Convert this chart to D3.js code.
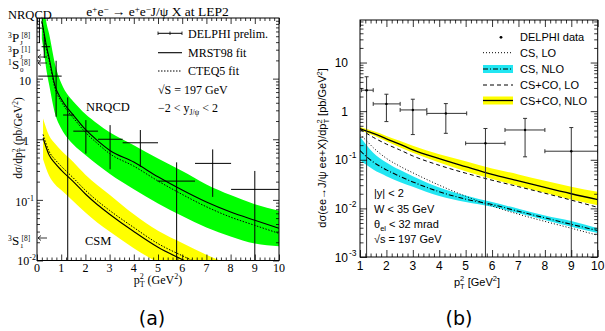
<!DOCTYPE html>
<html><head><meta charset="utf-8">
<script src="https://cdn.jsdelivr.net/npm/d3@7"></script>
<style>body{margin:0;background:#fff}svg{display:block}</style>
</head><body>
<svg id="chart" width="605" height="331"></svg>
<script>
// ---------------- Panel (a) data ----------------
const aCurveX    = [0.2,0.3,0.4,0.5,0.75,1,1.3,1.5,2,2.5,3,4,5,6,7,8,9,10];
const aNrqcdMrst = [90,55,33,22,7.5,4.6,3.1,2.5,1.45,0.95,0.66,0.42,0.24,0.145,0.092,0.063,0.046,0.034];
const aNrqcdCteq = [85,50,30,20,6.8,4.2,2.8,2.25,1.3,0.85,0.58,0.36,0.205,0.123,0.077,0.052,0.038,0.028];
const aNrqcdUp   = [200,130,80,55,17,8.5,5.2,4.2,2.6,1.8,1.3,0.8,0.48,0.3,0.18,0.12,0.085,0.066];
const aNrqcdLo   = [45,25,13,8,2.6,1.5,1.0,0.82,0.55,0.38,0.27,0.15,0.087,0.054,0.035,0.025,0.019,0.0172];
const aCsmX      = [0.25,0.5,0.75,1,1.5,2,2.5,3,4,5,6,7,8];
const aCsmMrst   = [1.05,0.55,0.4,0.31,0.2,0.125,0.083,0.058,0.030,0.0165,0.0104,0.0068,0.0046];
const aCsmCteq   = [1.2,0.63,0.46,0.36,0.23,0.144,0.096,0.067,0.035,0.019,0.012,0.0078,0.0053];
const aCsmUp     = [2.2,1.15,0.84,0.65,0.42,0.26,0.175,0.122,0.058,0.031,0.0195,0.0125,0.0085];
const aCsmLo     = [0.47,0.25,0.18,0.145,0.095,0.062,0.042,0.03,0.016,0.0092,0.0058,0.0038,0.0026];
const aDataX     = [0.1,0.3,0.79,1.27,2.02,3.02,4.27,5.77,7.26,9.0];
const aDataXlo   = [0.0,0.19,0.05,1.08,1.5,2.52,3.54,4.98,6.53,8.02];
const aDataXhi   = [0.2,0.54,1.02,1.53,2.52,3.54,5.0,6.53,8.02,10.0];
const aDataY     = [68,33.6,11.0,2.51,1.36,1.0,0.875,0.204,0.40,0.149];
const aDataYlo   = [38.7,21.9,2.35,0.001,0.58,0.32,0.35,0.001,0.112,0.001];
const aDataYhi   = [150,52.4,19.7,4.9,2.07,1.71,1.42,0.416,0.68,0.30];
const aXTicks    = [0,1,2,3,4,5,6,7,8,9,10];
const aYTicks    = [0.01,0.1,1,10];

// ---------------- Panel (b) data ----------------
const bCurveX    = [1,1.25,1.5,2,2.5,3,4,5,6,7,8,9,10];
const bCsCoNlo   = [0.44,0.39,0.35,0.27,0.21,0.16,0.105,0.072,0.05,0.037,0.027,0.02,0.0152];
const bCsCoNloUp = [0.47,0.43,0.39,0.31,0.245,0.195,0.13,0.093,0.066,0.05,0.037,0.028,0.0219];
const bCsCoNloLo = [0.42,0.36,0.32,0.24,0.18,0.14,0.088,0.058,0.04,0.029,0.021,0.0152,0.0116];
const bCsCoLo    = [0.42,0.35,0.29,0.21,0.16,0.12,0.077,0.053,0.038,0.028,0.0205,0.0148,0.0105];
const bCsLo      = [0.33,0.245,0.178,0.107,0.074,0.054,0.030,0.0178,0.0112,0.0076,0.0054,0.0039,0.0028];
const bCsNlo     = [0.155,0.115,0.09,0.062,0.046,0.035,0.022,0.0155,0.012,0.0087,0.0064,0.0047,0.0035];
const bCsNloUp   = [0.30,0.2,0.14,0.088,0.062,0.046,0.027,0.0185,0.0135,0.0098,0.0071,0.0055,0.0039];
const bCsNloLo   = [0.098,0.078,0.063,0.046,0.035,0.028,0.018,0.0135,0.0108,0.0079,0.0058,0.0042,0.0031];
const bDataX     = [1.25,2.0,3.0,4.25,5.75,7.25,9.0];
const bDataXlo   = [1.06,1.5,2.52,3.53,5.0,6.49,8.0];
const bDataXhi   = [1.5,2.52,3.53,5.04,6.49,8.0,10.0];
const bDataY     = [2.7,1.41,1.06,0.9,0.218,0.41,0.15];
const bDataYlo   = [0.0001,0.61,0.33,0.35,0.0001,0.115,0.0001];
const bDataYhi   = [5.1,2.23,1.76,1.43,0.44,0.71,0.46];
const bXTicks    = [1,2,3,4,5,6,7,8,9,10];
const bYTicks    = [0.001,0.01,0.1,1,10];

const svg = d3.select("#chart");
const SERIF = "Liberation Serif, Times New Roman, serif";
const SANS = "Liberation Sans, Arial, sans-serif";

function logMinor(lo, hi){ const out=[]; for(let e=Math.floor(Math.log10(lo)); e<Math.ceil(Math.log10(hi)); e++){ for(let k=2;k<=9;k++){const v=k*Math.pow(10,e); if(v>lo&&v<hi) out.push(v);} } return out; }
function linMinor(lo, hi, step){ const out=[]; const n=Math.round((hi-lo)/step); for(let i=0;i<=n;i++){const v=+(lo+i*step).toFixed(4); if(Math.abs(v-Math.round(v))>1e-6) out.push(v);} return out; }

function frameAndTicks(g, x, y, xMaj, xMin, yMaj, yMin, maj, min){
  const [x0,x1]=x.range(), [y0,y1]=y.range();
  const add=(axis, tr)=>{ const a=g.append("g").attr("transform",tr).call(axis); a.select(".domain").remove(); a.selectAll("text").remove(); a.selectAll("line").attr("stroke","#000").attr("stroke-width",0.8); };
  add(d3.axisBottom(x).tickValues(xMaj).tickSize(-maj), `translate(0,${y0})`);
  add(d3.axisBottom(x).tickValues(xMin).tickSize(-min), `translate(0,${y0})`);
  add(d3.axisTop(x).tickValues(xMaj).tickSize(-maj), `translate(0,${y1})`);
  add(d3.axisTop(x).tickValues(xMin).tickSize(-min), `translate(0,${y1})`);
  add(d3.axisLeft(y).tickValues(yMaj).tickSize(-maj), `translate(${x0},0)`);
  add(d3.axisLeft(y).tickValues(yMin).tickSize(-min), `translate(${x0},0)`);
  add(d3.axisRight(y).tickValues(yMaj).tickSize(-maj), `translate(${x1},0)`);
  add(d3.axisRight(y).tickValues(yMin).tickSize(-min), `translate(${x1},0)`);
  g.append("rect").attr("x",x0).attr("y",y1).attr("width",x1-x0).attr("height",y0-y1).attr("fill","none").attr("stroke","#000").attr("stroke-width",1);
}

function pts(xs, ys){ return xs.map((v,i)=>[v,ys[i]]); }

// =============== Panel (a) ===============
const xa = d3.scaleLinear().domain([0,10]).range([37,279]);
const ya = d3.scaleLog().domain([0.01,100]).range([260.5,18]);
const ga = svg.append("g");
svg.append("clipPath").attr("id","clipA").append("rect").attr("x",37).attr("y",18).attr("width",242).attr("height",242.5);
const pa = ga.append("g").attr("clip-path","url(#clipA)");

const areaA = d3.area().x(d=>xa(d[0])).y0(d=>ya(d[1])).y1(d=>ya(d[2])).curve(d3.curveMonotoneX);
const lineA = d3.line().x(d=>xa(d[0])).y(d=>ya(d[1])).curve(d3.curveMonotoneX);
pa.append("path").attr("d",areaA(aCurveX.map((v,i)=>[v,aNrqcdLo[i],aNrqcdUp[i]]))).attr("fill","#00ff00");
pa.append("path").attr("d",areaA(aCsmX.map((v,i)=>[v,aCsmLo[i],aCsmUp[i]]))).attr("fill","#ffff00");
pa.append("path").attr("d",lineA(pts(aCurveX,aNrqcdCteq))).attr("fill","none").attr("stroke","#000").attr("stroke-width",1).attr("stroke-dasharray","1.5,1.5");
pa.append("path").attr("d",lineA(pts(aCurveX,aNrqcdMrst))).attr("fill","none").attr("stroke","#000").attr("stroke-width",1.1);
pa.append("path").attr("d",lineA(pts(aCsmX,aCsmCteq))).attr("fill","none").attr("stroke","#000").attr("stroke-width",1).attr("stroke-dasharray","1.5,1.5");
pa.append("path").attr("d",lineA(pts(aCsmX,aCsmMrst))).attr("fill","none").attr("stroke","#000").attr("stroke-width",1.1);
aDataX.forEach((v,i)=>{
  pa.append("line").attr("x1",xa(aDataXlo[i])).attr("x2",xa(aDataXhi[i])).attr("y1",ya(aDataY[i])).attr("y2",ya(aDataY[i])).attr("stroke","#000").attr("stroke-width",1);
  pa.append("line").attr("x1",xa(v)).attr("x2",xa(v)).attr("y1",ya(aDataYlo[i])).attr("y2",ya(aDataYhi[i])).attr("stroke","#000").attr("stroke-width",1);
});
frameAndTicks(ga, xa, ya, aXTicks, linMinor(0,10,0.2), aYTicks, logMinor(0.01,100), 6, 3);

// tick labels (a)
aXTicks.forEach(t=>ga.append("text").attr("x",xa(t)).attr("y",272).attr("text-anchor","middle").attr("font-family",SERIF).attr("font-size",12).text(t));
function expLabel(g, xr, yc, base, exp, font, size, supSize){
  const t=g.append("text").attr("y",yc).attr("font-family",font).attr("font-size",size).attr("text-anchor","end").attr("x",xr);
  t.append("tspan").text(base);
  if(exp!==null){ t.append("tspan").attr("dy",-size*0.45).attr("font-size",supSize).text(exp); }
}
expLabel(ga, 31, 84.5, "10", null, SERIF, 12, 8);
expLabel(ga, 29, 145, "1", null, SERIF, 12, 8);
expLabel(ga, 34, 206, "10", "-1", SERIF, 12, 8);
expLabel(ga, 36, 265, "10", "-2", SERIF, 12, 8);

// axis titles (a)
const xla = ga.append("text").attr("x",158).attr("y",283.5).attr("text-anchor","middle").attr("font-family",SERIF).attr("font-size",12);
xla.append("tspan").text("p");
xla.append("tspan").attr("font-size",8).attr("dy",-5).text("2");
xla.append("tspan").attr("font-size",8).attr("dx",-4).attr("dy",8).text("T");
xla.append("tspan").attr("dy",-3).text(" (GeV");
xla.append("tspan").attr("font-size",8).attr("dy",-5).text("2");
xla.append("tspan").attr("dy",5).text(")");
const yla = ga.append("text").attr("transform","translate(22,138) rotate(-90)").attr("text-anchor","middle").attr("font-family",SERIF).attr("font-size",11.5);
yla.append("tspan").text("dσ/dp");
yla.append("tspan").attr("font-size",7.5).attr("dy",-4.5).text("2");
yla.append("tspan").attr("font-size",7.5).attr("dx",-4).attr("dy",7.5).text("T");
yla.append("tspan").attr("dy",-3).text(" (pb/GeV");
yla.append("tspan").attr("font-size",7.5).attr("dy",-4.5).text("2");
yla.append("tspan").attr("dy",4.5).text(")");

// title (a)
const tta = ga.append("text").attr("x",157.5).attr("y",16).attr("text-anchor","middle").attr("font-family",SERIF).attr("font-size",13.5);
tta.append("tspan").text("e");
tta.append("tspan").attr("font-size",9).attr("dy",-4.5).text("+");
tta.append("tspan").attr("dy",4.5).text("e");
tta.append("tspan").attr("font-size",9).attr("dy",-4.5).text("−");
tta.append("tspan").attr("dy",4.5).text(" → e");
tta.append("tspan").attr("font-size",9).attr("dy",-4.5).text("+");
tta.append("tspan").attr("dy",4.5).text("e");
tta.append("tspan").attr("font-size",9).attr("dy",-4.5).text("−");
tta.append("tspan").attr("dy",4.5).text("J/ψ X at LEP2");

ga.append("text").attr("x",8).attr("y",19).attr("font-family",SERIF).attr("font-size",12.5).text("NRQCD");
ga.append("text").attr("x",86).attr("y",111).attr("font-family",SERIF).attr("font-size",12.5).text("NRQCD");
ga.append("text").attr("x",85).attr("y",244.5).attr("font-family",SERIF).attr("font-size",12.5).text("CSM");

// left state labels
function stateLabel(g, x, y, pre, main, sub, sup){
  g.append("text").attr("x",x).attr("y",y-4.5).attr("font-family",SERIF).attr("font-size",7.5).text(pre);
  g.append("text").attr("x",x+4).attr("y",y).attr("font-family",SERIF).attr("font-size",13).text(main);
  g.append("text").attr("x",x+12).attr("y",y+2.5).attr("font-family",SERIF).attr("font-size",7).text(sub);
  g.append("text").attr("x",x+13.5).attr("y",y-4.5).attr("font-family",SERIF).attr("font-size",7.5).text(sup);
}
stateLabel(ga, 8, 42, "3", "P", "J", "[8]");
stateLabel(ga, 8, 56.5, "3", "P", "J", "[1]");
stateLabel(ga, 8, 69, "1", "S", "0", "[8]");
stateLabel(ga, 8, 245, "3", "S", "1", "[8]");
function arrow(g, x, y){
  g.append("line").attr("x1",x+9).attr("x2",x).attr("y1",y).attr("y2",y).attr("stroke","#000").attr("stroke-width",0.8);
  g.append("path").attr("d",`M${x+3},${y-2.5}L${x},${y}L${x+3},${y+2.5}`).attr("fill","none").attr("stroke","#000").attr("stroke-width",0.8);
}
arrow(ga, 38, 57); arrow(ga, 38, 63); arrow(ga, 38, 238);

// legend (a)
const legA = ga.append("g").attr("font-family",SERIF).attr("font-size",12);
legA.append("line").attr("x1",158).attr("x2",182).attr("y1",33.3).attr("y2",33.3).attr("stroke","#000");
[158,170,182].forEach(xx=>legA.append("line").attr("x1",xx).attr("x2",xx).attr("y1",31.5).attr("y2",35).attr("stroke","#000").attr("stroke-width",0.8));
legA.append("text").attr("x",188).attr("y",37.6).text("DELPHI prelim.");
legA.append("line").attr("x1",158).attr("x2",182).attr("y1",52.7).attr("y2",52.7).attr("stroke","#000").attr("stroke-width",1.1);
legA.append("text").attr("x",188).attr("y",57).text("MRST98 fit");
legA.append("line").attr("x1",158).attr("x2",182).attr("y1",71).attr("y2",71).attr("stroke","#000").attr("stroke-dasharray","1.5,1.5");
legA.append("text").attr("x",188).attr("y",75.3).text("CTEQ5 fit");
legA.append("text").attr("x",158).attr("y",93.6).text("√S = 197 GeV");
const yrng = legA.append("text").attr("x",158).attr("y",112.3);
yrng.append("tspan").text("−2 < y");
yrng.append("tspan").attr("font-size",7.5).attr("dy",3).text("J/ψ");
yrng.append("tspan").attr("dy",-3).text(" < 2");

svg.append("text").attr("x",152).attr("y",325).attr("text-anchor","middle").attr("font-family","DejaVu Sans").attr("font-size",19).text("(a)");

// =============== Panel (b) ===============
const xb = d3.scaleLinear().domain([1,10]).range([360,597.7]);
const yb = d3.scaleLog().domain([0.001,75]).range([257,20]);
const gb = svg.append("g");
svg.append("clipPath").attr("id","clipB").append("rect").attr("x",360).attr("y",20).attr("width",237.7).attr("height",237);
const pb = gb.append("g").attr("clip-path","url(#clipB)");
const areaB = d3.area().x(d=>xb(d[0])).y0(d=>yb(d[1])).y1(d=>yb(d[2])).curve(d3.curveMonotoneX);
const lineB = d3.line().x(d=>xb(d[0])).y(d=>yb(d[1])).curve(d3.curveMonotoneX);
const YELLOW="#ffff00", CYAN="#22e6f2";
pb.append("path").attr("d",areaB(bCurveX.map((v,i)=>[v,bCsNloLo[i],bCsNloUp[i]]))).attr("fill",CYAN);
pb.append("path").attr("d",areaB(bCurveX.map((v,i)=>[v,bCsCoNloLo[i],bCsCoNloUp[i]]))).attr("fill",YELLOW);
pb.append("path").attr("d",lineB(pts(bCurveX,bCsNlo))).attr("fill","none").attr("stroke","#000").attr("stroke-width",1.1).attr("stroke-dasharray","5,2,1,2");
pb.append("path").attr("d",lineB(pts(bCurveX,bCsLo))).attr("fill","none").attr("stroke","#000").attr("stroke-width",1).attr("stroke-dasharray","1,2");
pb.append("path").attr("d",lineB(pts(bCurveX,bCsCoLo))).attr("fill","none").attr("stroke","#000").attr("stroke-width",1).attr("stroke-dasharray","4,3");
pb.append("path").attr("d",lineB(pts(bCurveX,bCsCoNlo))).attr("fill","none").attr("stroke","#000").attr("stroke-width",1.3);
bDataX.forEach((v,i)=>{
  const c="#333";
  pb.append("line").attr("x1",xb(bDataXlo[i])).attr("x2",xb(bDataXhi[i])).attr("y1",yb(bDataY[i])).attr("y2",yb(bDataY[i])).attr("stroke",c);
  [bDataXlo[i],bDataXhi[i]].forEach(xx=>pb.append("line").attr("x1",xb(xx)).attr("x2",xb(xx)).attr("y1",yb(bDataY[i])-2).attr("y2",yb(bDataY[i])+2).attr("stroke",c));
  pb.append("line").attr("x1",xb(v)).attr("x2",xb(v)).attr("y1",yb(bDataYlo[i])).attr("y2",yb(bDataYhi[i])).attr("stroke",c);
  [bDataYlo[i],bDataYhi[i]].forEach(yy=>pb.append("line").attr("x1",xb(v)-2).attr("x2",xb(v)+2).attr("y1",yb(yy)).attr("y2",yb(yy)).attr("stroke",c));
  pb.append("circle").attr("cx",xb(v)).attr("cy",yb(bDataY[i])).attr("r",1.2).attr("fill","#000");
});
frameAndTicks(gb, xb, yb, bXTicks, linMinor(1,10,0.2), bYTicks, logMinor(0.001,75), 7, 3.5);

bXTicks.forEach(t=>gb.append("text").attr("x",xb(t)).attr("y",269.5).attr("text-anchor","middle").attr("font-family",SANS).attr("font-size",12).text(t));
function expLabelB(g, y, base, exp){
  g.append("text").attr("x",348).attr("y",y).attr("text-anchor","end").attr("font-family",SANS).attr("font-size",12).text(base);
  if(exp) g.append("text").attr("x",349).attr("y",y-6).attr("font-family",SANS).attr("font-size",8.5).text(exp);
}
bYTicks.forEach(t=>{
  const e=Math.round(Math.log10(t));
  if(e===1) expLabelB(gb, yb(t)+4.5, "10", null);
  else if(e===0) expLabelB(gb, yb(t)+4.5, "1", null);
  else expLabelB(gb, yb(t)+4.5, "10", String(e));
});
const xlb = gb.append("text").attr("x",477).attr("y",285.5).attr("text-anchor","middle").attr("font-family",SANS).attr("font-size",11);
xlb.append("tspan").text("p");
xlb.append("tspan").attr("font-size",7.5).attr("dy",-4.5).text("2");
xlb.append("tspan").attr("font-size",7.5).attr("dx",-4.2).attr("dy",7.5).text("T");
xlb.append("tspan").attr("dy",-3).text(" [GeV");
xlb.append("tspan").attr("font-size",7.5).attr("dy",-4.5).text("2");
xlb.append("tspan").attr("dy",4.5).text("]");
const ylb = gb.append("text").attr("transform","translate(326,148) rotate(-90)").attr("text-anchor","middle").attr("font-family",SANS).attr("font-size",11);
ylb.append("tspan").text("dσ(ee→J/ψ ee+X)/dp");
ylb.append("tspan").attr("font-size",7.5).attr("dy",-4.5).text("2");
ylb.append("tspan").attr("font-size",7.5).attr("dx",-4.2).attr("dy",7.5).text("T");
ylb.append("tspan").attr("dy",-3).text("  [pb/GeV");
ylb.append("tspan").attr("font-size",7.5).attr("dy",-4.5).text("2");
ylb.append("tspan").attr("dy",4.5).text("]");

// legend (b)
const legB = gb.append("g").attr("font-family",SANS).attr("font-size",11);
legB.append("circle").attr("cx",501).attr("cy",37.3).attr("r",1.4).attr("fill","#000");
legB.append("text").attr("x",520).attr("y",41.3).text("DELPHI data");
legB.append("line").attr("x1",483).attr("x2",513).attr("y1",52.7).attr("y2",52.7).attr("stroke","#000").attr("stroke-dasharray","1,2");
legB.append("text").attr("x",520).attr("y",56.7).text("CS, LO");
legB.append("rect").attr("x",483).attr("y",65).attr("width",30).attr("height",8).attr("fill",CYAN);
legB.append("line").attr("x1",483).attr("x2",513).attr("y1",69).attr("y2",69).attr("stroke","#000").attr("stroke-width",1.1).attr("stroke-dasharray","5,2,1,2");
legB.append("text").attr("x",520).attr("y",73).text("CS, NLO");
legB.append("line").attr("x1",483).attr("x2",513).attr("y1",85).attr("y2",85).attr("stroke","#000").attr("stroke-dasharray","4,3");
legB.append("text").attr("x",520).attr("y",89).text("CS+CO, LO");
legB.append("rect").attr("x",483).attr("y",96.5).attr("width",30).attr("height",8).attr("fill",YELLOW);
legB.append("line").attr("x1",483).attr("x2",513).attr("y1",100.5).attr("y2",100.5).attr("stroke","#000").attr("stroke-width",1.3);
legB.append("text").attr("x",520).attr("y",104.5).text("CS+CO, NLO");

const infoB = gb.append("g").attr("font-family",SANS).attr("font-size",11);
infoB.append("text").attr("x",374).attr("y",197).text("|y| < 2");
infoB.append("text").attr("x",374).attr("y",212.5).text("W < 35 GeV");
const th = infoB.append("text").attr("x",374).attr("y",228);
th.append("tspan").text("θ");
th.append("tspan").attr("font-size",7.5).attr("dy",3).text("el");
th.append("tspan").attr("dy",-3).text(" < 32 mrad");
infoB.append("text").attr("x",374).attr("y",242.5).text("√s = 197 GeV");

svg.append("text").attr("x",459).attr("y",325).attr("text-anchor","middle").attr("font-family","DejaVu Sans").attr("font-size",19).text("(b)");
</script>
</body></html>
